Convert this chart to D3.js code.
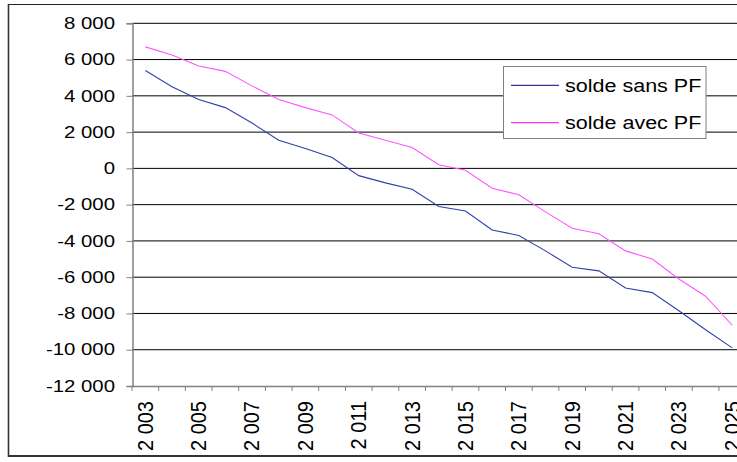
<!DOCTYPE html>
<html>
<head>
<meta charset="utf-8">
<script src="https://cdn.jsdelivr.net/npm/d3@7"></script>
<style>
  html, body { margin: 0; padding: 0; background: #fff; }
  svg { display: block; font-family: "Liberation Sans", Arial, sans-serif; }
</style>
</head>
<body>
<svg id="chart" width="737" height="462"></svg>
<script>
// Years on the category axis
const years = [2003, 2004, 2005, 2006, 2007, 2008, 2009, 2010, 2011, 2012, 2013, 2014,
               2015, 2016, 2017, 2018, 2019, 2020, 2021, 2022, 2023, 2024, 2025];
// Balance without PF
const soldeSansPF = [5400, 4500, 3800, 3350, 2500, 1550, 1100, 600, -400, -800, -1150, -2100,
                     -2350, -3400, -3700, -4550, -5450, -5650, -6600, -6850, -7850, -8900, -9900];
// Balance with PF
const soldeAvecPF = [6700, 6250, 5650, 5350, 4550, 3800, 3350, 2950, 1950, 1550, 1150, 200,
                     -100, -1100, -1450, -2400, -3300, -3600, -4550, -5000, -6100, -7050, -8650];
// Value axis ticks
const yTicks = [8000, 6000, 4000, 2000, 0, -2000, -4000, -6000, -8000, -10000, -12000];
const seriesNames = ["solde sans PF", "solde avec PF"];

const svg = d3.select("#chart");

const x = d3.scaleBand().domain(years).range([132, 745.6]).paddingInner(0).paddingOuter(0);
const y = d3.scaleLinear().domain([-12000, 8000]).range([386, 23.3]);
const cx = d => x(d) + x.bandwidth() / 2;

// French-style thousands separator
const fmt = v => {
  const s = Math.abs(v).toString().replace(/\B(?=(\d{3})+(?!\d))/g, " ");
  return (v < 0 ? "-" : "") + s;
};

// Outer frame
const frame = svg.append("g");
frame.append("line").attr("x1", 8).attr("x2", 760).attr("y1", 4.5).attr("y2", 4.5)
  .attr("stroke", "#222").attr("stroke-width", 1);
frame.append("line").attr("x1", 8.5).attr("x2", 8.5).attr("y1", 4).attr("y2", 457)
  .attr("stroke", "#333").attr("stroke-width", 1.6);
frame.append("line").attr("x1", 8).attr("x2", 760).attr("y1", 456).attr("y2", 456)
  .attr("stroke", "#333").attr("stroke-width", 2);

// Horizontal gridlines
svg.append("g").selectAll("line").data(yTicks.filter(t => t !== -12000)).join("line")
  .attr("x1", 132).attr("x2", 745.6)
  .attr("y1", d => y(d)).attr("y2", d => y(d))
  .attr("stroke", "#000").attr("stroke-width", 1);

// Value axis
const yAxis = d3.axisLeft(y).tickValues(yTicks).tickSize(6).tickFormat(fmt);
const gy = svg.append("g").attr("transform", "translate(132.5,0)").call(yAxis);
gy.select(".domain").attr("stroke", "#808080").attr("stroke-width", 1.5);
gy.selectAll(".tick line").attr("stroke", "#808080").attr("stroke-width", 1);
gy.selectAll(".tick text")
  .attr("font-size", 16.3).attr("fill", "#000")
  .attr("x", null).attr("dy", null)
  .attr("text-anchor", "end")
  .attr("transform", "translate(-17.5,5.2) scale(1.25,1)");

// Category axis
const xAxis = d3.axisBottom(x).tickSize(0).tickFormat("");
const gx = svg.append("g").attr("transform", `translate(0,${y(-12000)})`).call(xAxis);
gx.select(".domain").attr("stroke", "#808080").attr("stroke-width", 1.5);
gx.selectAll(".tick").remove();
// Tick marks between categories
const bounds = years.map(d => x(d)).concat([x(years[years.length - 1]) + x.bandwidth()]);
gx.selectAll("line.sep").data(bounds).join("line").attr("class", "sep")
  .attr("x1", d => d).attr("x2", d => d).attr("y1", 0).attr("y2", 5)
  .attr("stroke", "#808080").attr("stroke-width", 1);

// Rotated labels for odd years
svg.append("g").selectAll("text").data(years.filter((d, i) => i % 2 === 0)).join("text")
  .attr("transform", d => `translate(${cx(d) + 7.4},401) rotate(-90) scale(1,1.12)`)
  .attr("text-anchor", "end")
  .attr("font-size", 20)
  .attr("fill", "#000")
  .text(d => fmt(d));

// Series lines
const line = vals => d3.line().x((d, i) => cx(years[i])).y(d => y(d))(vals);
svg.append("path").attr("d", line(soldeSansPF))
  .attr("fill", "none").attr("stroke", "#3040a8").attr("stroke-width", 1.1);
svg.append("path").attr("d", line(soldeAvecPF))
  .attr("fill", "none").attr("stroke", "#ff55ff").attr("stroke-width", 1.1);

// Legend
const lg = svg.append("g");
lg.append("rect").attr("x", 503.5).attr("y", 66.5).attr("width", 202.5).attr("height", 72)
  .attr("fill", "#fff").attr("stroke", "#808080").attr("stroke-width", 1);
const legendColors = ["#000080", "#ff00ff"];
const legendY = [85.3, 122.7];
seriesNames.forEach((name, i) => {
  lg.append("line").attr("x1", 511).attr("x2", 559)
    .attr("y1", legendY[i]).attr("y2", legendY[i])
    .attr("stroke", legendColors[i]).attr("stroke-width", 1);
  lg.append("text")
    .attr("transform", `translate(565,${legendY[i] + 6.3}) scale(1.23,1)`)
    .attr("font-size", 17.5).attr("fill", "#000")
    .text(name);
});
</script>
</body>
</html>
